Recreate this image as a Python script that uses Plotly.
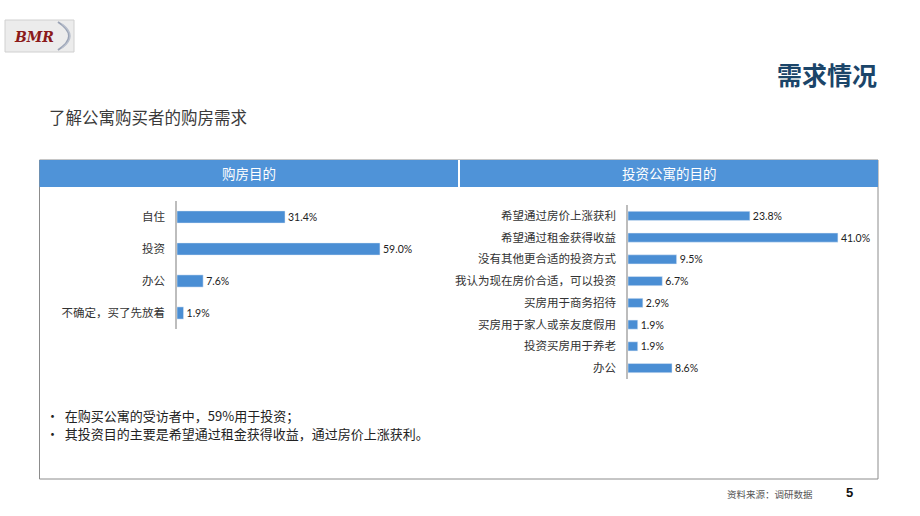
import plotly.graph_objects as go

W, H = 920, 516

# ---- data ----
left_categories = ["自住", "投资", "办公", "不确定，买了先放着"]
left_values = [31.4, 59.0, 7.6, 1.9]

right_categories = ["希望通过房价上涨获利", "希望通过租金获得收益", "没有其他更合适的投资方式",
                    "我认为现在房价合适，可以投资", "买房用于商务招待", "买房用于家人或亲友度假用",
                    "投资买房用于养老", "办公"]
right_values = [23.8, 41.0, 9.5, 6.7, 2.9, 1.9, 1.9, 8.6]

BAR = "#4a8ed4"
HEAD = "#4f93d8"
CJK = "Noto Sans CJK SC"
NUMF = "Lato, Open Sans, sans-serif"


def px(x):
    return x / W


def py(y):
    return 1 - y / H


fig = go.Figure()
fig.add_trace(go.Bar(
    x=left_values, y=left_categories, orientation="h", marker_color=BAR, width=0.38,
    text=[f"{v:.1f}%" for v in left_values], textposition="outside", cliponaxis=False,
    constraintext="none",
    textfont=dict(size=10.5, color="#222", family=NUMF), xaxis="x", yaxis="y"))
fig.add_trace(go.Bar(
    x=right_values, y=right_categories, orientation="h", marker_color=BAR, width=0.42,
    text=[f"{v:.1f}%" for v in right_values], textposition="outside", cliponaxis=False,
    constraintext="none",
    textfont=dict(size=10.5, color="#222", family=NUMF), xaxis="x2", yaxis="y2"))

# left: axis at x=177, 3.44 px per %, rows 201..329
lx0 = 177
lrange = 70
lx1 = lx0 + lrange * 3.44
# right: axis at 628, 5.12 px per %
rx0 = 628
rrange = 48
rx1 = rx0 + rrange * 5.12

common_x = dict(showgrid=False, zeroline=False, showticklabels=False, showline=False, fixedrange=True)


def ycfg(size):
    return dict(showgrid=False, zeroline=False, showline=True, linecolor="#bdbdbd", linewidth=1.5,
                ticks="", autorange="reversed", ticklabelstandoff=8,
                tickfont=dict(family=CJK, size=size, color="#333"))


fig.update_layout(
    width=W, height=H, margin=dict(l=0, r=0, t=0, b=0),
    paper_bgcolor="white", plot_bgcolor="rgba(0,0,0,0)", showlegend=False, bargap=0.5,
    xaxis=dict(domain=[px(lx0), px(lx1)], range=[0, lrange], anchor="y", **common_x),
    yaxis=dict(domain=[py(329), py(201)], anchor="x", **ycfg(11.5)),
    xaxis2=dict(domain=[px(rx0), px(rx1)], range=[0, rrange], anchor="y2", **common_x),
    yaxis2=dict(domain=[py(379), py(205)], anchor="x2", **ycfg(11.5)),
)

shapes = [
    # outer box
    dict(type="rect", xref="paper", yref="paper", x0=px(39.5), x1=px(878), y0=py(479), y1=py(160),
         line=dict(color="#8c8c8c", width=1), fillcolor="rgba(0,0,0,0)", layer="below"),
    # header bar
    dict(type="rect", xref="paper", yref="paper", x0=px(39.5), x1=px(878), y0=py(187), y1=py(160),
         line=dict(width=0), fillcolor=HEAD, layer="below"),
    # divider
    dict(type="line", xref="paper", yref="paper", x0=px(459), x1=px(459), y0=py(187), y1=py(160),
         line=dict(color="white", width=2)),
    # logo background
    dict(type="rect", xref="paper", yref="paper", x0=px(5), x1=px(74), y0=py(52), y1=py(20),
         line=dict(color="#d0d0d0", width=1), fillcolor="#ececec", layer="below"),
    dict(type="path", xref="paper", yref="paper",
         path=f"M {px(58)} {py(22)} Q {px(80)} {py(36)} {px(58)} {py(50)}",
         line=dict(color="#9aa3b5", width=2)),
    dict(type="path", xref="paper", yref="paper",
         path=f"M {px(62)} {py(24)} Q {px(78)} {py(36)} {px(62)} {py(48)}",
         line=dict(color="#b8bfcc", width=1.5)),
]
fig.update_layout(shapes=shapes)

ann = [
    dict(text="<i><b>BMR</b></i>", x=px(34), y=py(37), font=dict(family="DejaVu Serif", size=14, color="#8b1a1a"),
         xanchor="center", yanchor="middle"),
    dict(text="<b>需求情况</b>", x=px(879), y=py(74), font=dict(family=CJK, size=25, color="#1b4569"),
         xanchor="right", yanchor="middle"),
    dict(text="了解公寓购买者的购房需求", x=px(47), y=py(117), font=dict(family=CJK, size=16.5, color="#3a3a3a"),
         xanchor="left", yanchor="middle"),
    dict(text="购房目的", x=px(249), y=py(173.5), font=dict(family=CJK, size=13.5, color="white"),
         xanchor="center", yanchor="middle"),
    dict(text="投资公寓的目的", x=px(669), y=py(173.5), font=dict(family=CJK, size=13.5, color="white"),
         xanchor="center", yanchor="middle"),
    dict(text="•  在购买公寓的受访者中，59%用于投资；", x=px(44), y=py(415), font=dict(family=CJK, size=13, color="#222"),
         xanchor="left", yanchor="middle"),
    dict(text="•  其投资目的主要是希望通过租金获得收益，通过房价上涨获利。", x=px(44), y=py(433),
         font=dict(family=CJK, size=13, color="#222"), xanchor="left", yanchor="middle"),
    dict(text="资料来源：调研数据", x=px(815), y=py(494), font=dict(family=CJK, size=9.5, color="#555"),
         xanchor="right", yanchor="middle"),
    dict(text="<b>5</b>", x=px(849), y=py(492), font=dict(family="Liberation Sans", size=13, color="#111"),
         xanchor="center", yanchor="middle"),
]
for a in ann:
    a.update(xref="paper", yref="paper", showarrow=False)
fig.update_layout(annotations=ann)

fig.write_html("out.html")
